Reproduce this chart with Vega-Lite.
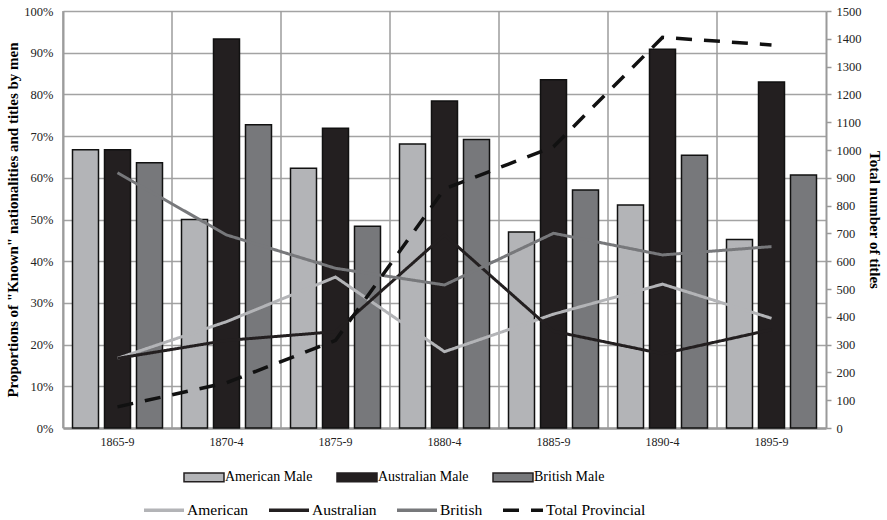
{
  "$schema": "https://vega.github.io/schema/vega-lite/v6.json",
  "width": 763,
  "height": 417,
  "autosize": {"type": "none"},
  "padding": {"left": 63, "top": 11, "right": 61, "bottom": 92},
  "background": "white",
  "config": {
    "view": {"stroke": null},
    "font": "Liberation Serif",
    "axis": {"labelFont": "Liberation Serif", "titleFont": "Liberation Serif", "labelColor": "#222", "titleColor": "#000"},
    "legend": {"labelFont": "Liberation Serif", "labelColor": "#000"}
  },
  "datasets": {
    "bars": [
      {"period": "1865-9", "group": "American Male", "value": 66.7},
      {"period": "1865-9", "group": "Australian Male", "value": 66.7},
      {"period": "1865-9", "group": "British Male", "value": 63.6},
      {"period": "1870-4", "group": "American Male", "value": 50.0},
      {"period": "1870-4", "group": "Australian Male", "value": 93.3},
      {"period": "1870-4", "group": "British Male", "value": 72.7},
      {"period": "1875-9", "group": "American Male", "value": 62.3},
      {"period": "1875-9", "group": "Australian Male", "value": 71.9},
      {"period": "1875-9", "group": "British Male", "value": 48.4},
      {"period": "1880-4", "group": "American Male", "value": 68.1},
      {"period": "1880-4", "group": "Australian Male", "value": 78.4},
      {"period": "1880-4", "group": "British Male", "value": 69.2},
      {"period": "1885-9", "group": "American Male", "value": 47.0},
      {"period": "1885-9", "group": "Australian Male", "value": 83.5},
      {"period": "1885-9", "group": "British Male", "value": 57.1},
      {"period": "1890-4", "group": "American Male", "value": 53.5},
      {"period": "1890-4", "group": "Australian Male", "value": 90.8},
      {"period": "1890-4", "group": "British Male", "value": 65.4},
      {"period": "1895-9", "group": "American Male", "value": 45.2},
      {"period": "1895-9", "group": "Australian Male", "value": 83.0},
      {"period": "1895-9", "group": "British Male", "value": 60.7}
    ],
    "lines": [
      {"period": "1865-9", "series": "American", "value": 16.7},
      {"period": "1870-4", "series": "American", "value": 25.5},
      {"period": "1875-9", "series": "American", "value": 36.2},
      {"period": "1880-4", "series": "American", "value": 18.3},
      {"period": "1885-9", "series": "American", "value": 27.3},
      {"period": "1890-4", "series": "American", "value": 34.5},
      {"period": "1895-9", "series": "American", "value": 26.3},
      {"period": "1865-9", "series": "Australian", "value": 16.7},
      {"period": "1870-4", "series": "Australian", "value": 21.0},
      {"period": "1875-9", "series": "Australian", "value": 23.1},
      {"period": "1880-4", "series": "Australian", "value": 46.3},
      {"period": "1885-9", "series": "Australian", "value": 23.2},
      {"period": "1890-4", "series": "Australian", "value": 17.8},
      {"period": "1895-9", "series": "Australian", "value": 23.6},
      {"period": "1865-9", "series": "British", "value": 61.2},
      {"period": "1870-4", "series": "British", "value": 46.3},
      {"period": "1875-9", "series": "British", "value": 38.3},
      {"period": "1880-4", "series": "British", "value": 34.3},
      {"period": "1885-9", "series": "British", "value": 46.7},
      {"period": "1890-4", "series": "British", "value": 41.5},
      {"period": "1895-9", "series": "British", "value": 43.5}
    ],
    "total": [
      {"period": "1865-9", "series": "Total Provincial", "titles": 76},
      {"period": "1870-4", "series": "Total Provincial", "titles": 163},
      {"period": "1875-9", "series": "Total Provincial", "titles": 315},
      {"period": "1880-4", "series": "Total Provincial", "titles": 860},
      {"period": "1885-9", "series": "Total Provincial", "titles": 1012},
      {"period": "1890-4", "series": "Total Provincial", "titles": 1405},
      {"period": "1895-9", "series": "Total Provincial", "titles": 1378}
    ]
  },
  "encoding": {
    "x": {
      "field": "period", "type": "nominal", "sort": null,
      "scale": {"paddingInner": 0, "paddingOuter": 0},
      "axis": {"title": null, "labelAngle": 0, "ticks": false, "grid": false, "labelFontSize": 12, "labelPadding": 8, "domainColor": "#9a9a9a", "domainWidth": 2.5}
    }
  },
  "layer": [
    {
      "layer": [
        {
          "data": {"name": "total"},
          "mark": {"type": "rule", "color": "#9d9d9d", "strokeWidth": 1.5},
          "encoding": {"x": {"field": "period", "type": "nominal", "bandPosition": 0}}
        },
        {
          "data": {"name": "bars"},
          "mark": {"type": "bar", "stroke": "#111", "strokeWidth": 1.5},
          "encoding": {
            "xOffset": {"field": "group", "type": "nominal", "scale": {"paddingInner": 0.1875, "paddingOuter": 0.297}},
            "y": {
              "field": "value", "type": "quantitative",
              "scale": {"domain": [0, 100], "nice": false},
              "axis": {
                "title": "Proportions of \"Known\" nationalities and titles by men",
                "titleFontSize": 15, "titleFontWeight": "bold", "titlePadding": 3,
                "values": [0, 10, 20, 30, 40, 50, 60, 70, 80, 90, 100],
                "labelExpr": "datum.value + '%'", "labelFontSize": 12.5, "labelPadding": 10,
                "ticks": false, "grid": true, "gridColor": "#a3a3a3", "gridWidth": 1.5,
                "domainColor": "#9a9a9a", "domainWidth": 2
              }
            },
            "fill": {
              "field": "group", "type": "nominal",
              "scale": {"domain": ["American Male", "Australian Male", "British Male"], "range": ["#b3b4b7", "#231f20", "#77787b"]},
              "legend": {
                "title": null, "orient": "none", "direction": "horizontal", "columns": 3,
                "legendX": 120, "legendY": 445,
                "symbolType": "M-1,-0.22H1V0.22H-1Z", "symbolSize": 1600,
                "symbolStrokeColor": "#231f20", "symbolStrokeWidth": 1.5,
                "labelFontSize": 14, "labelOffset": 0, "columnPadding": 21, "padding": 0, "labelLimit": 300
              }
            }
          }
        },
        {
          "data": {"name": "lines"},
          "mark": {"type": "line", "strokeWidth": 3},
          "encoding": {
            "y": {"field": "value", "type": "quantitative"},
            "stroke": {
              "field": "series", "type": "nominal",
              "scale": {"domain": ["American", "Australian", "British", "Total Provincial"], "range": ["#b3b4b7", "#231f20", "#77787b", "#111111"]},
              "legend": {
                "title": null, "orient": "none", "direction": "horizontal", "columns": 4,
                "legendX": 79, "legendY": 477,
                "symbolType": "stroke", "symbolSize": 1600, "symbolStrokeWidth": 3.5,
                "labelFontSize": 15.5, "labelOffset": 1, "columnPadding": 13, "padding": 0, "labelLimit": 300
              }
            },
            "strokeDash": {
              "field": "series", "type": "nominal",
              "scale": {"domain": ["American", "Australian", "British", "Total Provincial"], "range": [[1, 0], [1, 0], [1, 0], [16, 12]]},
              "legend": {
                "title": null, "orient": "none", "direction": "horizontal", "columns": 4,
                "legendX": 79, "legendY": 477,
                "symbolType": "stroke", "symbolSize": 1600, "symbolStrokeWidth": 3.5,
                "labelFontSize": 15.5, "labelOffset": 1, "columnPadding": 13, "padding": 0, "labelLimit": 300
              }
            }
          }
        }
      ]
    },
    {
      "data": {"name": "total"},
      "mark": {"type": "line", "strokeWidth": 3.5},
      "encoding": {
        "y": {
          "field": "titles", "type": "quantitative",
          "scale": {"domain": [0, 1500], "nice": false},
          "axis": {
            "orient": "right", "title": "Total number of titles",
            "titleFontSize": 15, "titleFontWeight": "bold", "titlePadding": 5,
            "values": [0, 100, 200, 300, 400, 500, 600, 700, 800, 900, 1000, 1100, 1200, 1300, 1400, 1500],
            "format": "d",
            "labelFontSize": 12.5, "labelPadding": 5, "tickSize": 5, "tickColor": "#9a9a9a", "tickWidth": 1.5,
            "grid": false, "domainColor": "#9a9a9a", "domainWidth": 2
          }
        },
        "stroke": {
          "field": "series", "type": "nominal",
          "scale": {"domain": ["American", "Australian", "British", "Total Provincial"], "range": ["#b3b4b7", "#231f20", "#77787b", "#111111"]},
          "legend": {
            "title": null, "orient": "none", "direction": "horizontal", "columns": 4,
            "legendX": 79, "legendY": 477,
            "symbolType": "stroke", "symbolSize": 1600, "symbolStrokeWidth": 3.5,
            "labelFontSize": 15.5, "labelOffset": 1, "columnPadding": 13, "padding": 0, "labelLimit": 300
          }
        },
        "strokeDash": {
          "field": "series", "type": "nominal",
          "scale": {"domain": ["American", "Australian", "British", "Total Provincial"], "range": [[1, 0], [1, 0], [1, 0], [16, 12]]},
          "legend": {
            "title": null, "orient": "none", "direction": "horizontal", "columns": 4,
            "legendX": 79, "legendY": 477,
            "symbolType": "stroke", "symbolSize": 1600, "symbolStrokeWidth": 3.5,
            "labelFontSize": 15.5, "labelOffset": 1, "columnPadding": 13, "padding": 0, "labelLimit": 300
          }
        }
      }
    }
  ],
  "resolve": {"scale": {"y": "independent"}}
}
